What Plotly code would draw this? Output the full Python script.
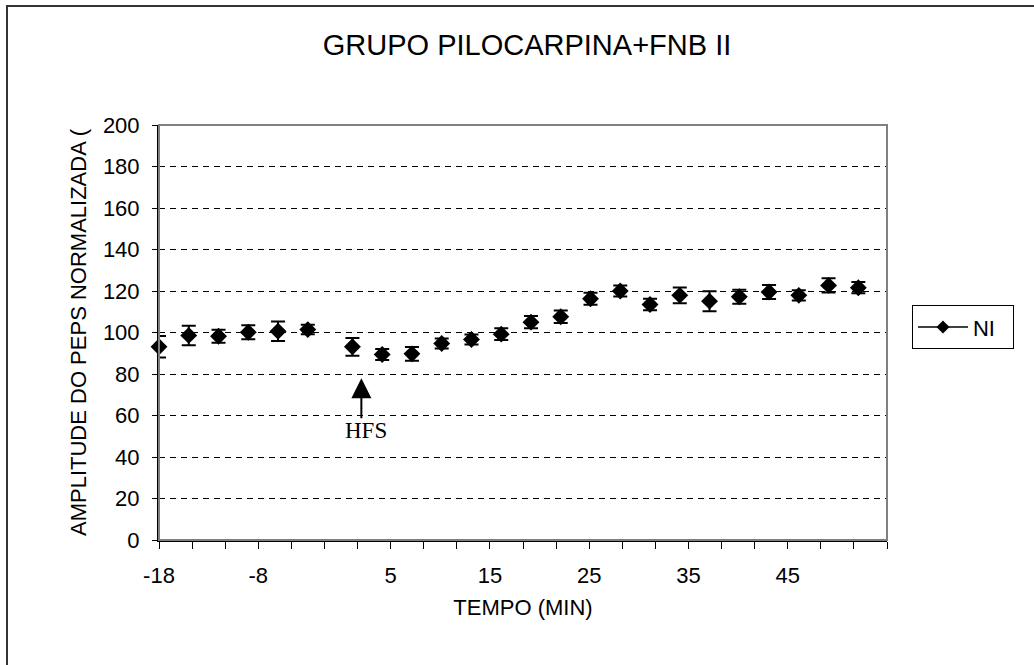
import plotly.graph_objects as go

# ---- data ----
tempo = [-18, -15, -12, -9, -6, -3,
         1.5, 4.5, 7.5, 10.5, 13.5, 16.5, 19.5, 22.5, 25.5, 28.5,
         31.5, 34.5, 37.5, 40.5, 43.5, 46.5, 49.5, 52.5]
amplitude = [93.1, 98.6, 98.2, 100.1, 100.6, 101.4,
             93.1, 89.4, 89.7, 94.7, 96.6, 99.2, 105.0, 107.6, 116.3, 120.0,
             113.5, 117.9, 115.1, 117.2, 119.5, 117.9, 122.7, 121.6]
erro = [5.2, 4.7, 3.1, 3.4, 4.7, 2.3,
        4.3, 2.6, 3.3, 2.4, 2.4, 2.8, 2.9, 3.0, 2.9, 2.7,
        2.8, 3.8, 4.8, 3.4, 3.4, 2.5, 3.4, 2.7]
x_tick_labels = ["-18", "", "", "-8", "", "", "", "5", "", "", "15", "", "", "25",
                 "", "", "35", "", "", "45", "", "", ""]
y_ticks = [0, 20, 40, 60, 80, 100, 120, 140, 160, 180, 200]
hfs_x = 2.4
hfs_tip, hfs_base = 78, 58
hfs_label_y = 52.8

X_MIN, X_MAX = -18, 55.39
n_int = len(x_tick_labels) - 1
x_tickvals = [X_MIN + k * (X_MAX - X_MIN) / n_int for k in range(n_int + 1)]

FONT = "Liberation Sans, Arial, sans-serif"

fig = go.Figure()
fig.add_trace(go.Scatter(
    x=tempo, y=amplitude, mode="markers", showlegend=False, cliponaxis=False,
    marker=dict(symbol="diamond", size=13, color="black"),
    error_y=dict(type="data", array=erro, visible=True, color="black",
                 thickness=2, width=7),
))
# legend-only entry (line + marker, as in the original legend)
fig.add_trace(go.Scatter(
    x=[None], y=[None], mode="lines+markers", name="NI&nbsp;&nbsp;",
    line=dict(color="black", width=1.5),
    marker=dict(symbol="diamond", size=10, color="black"),
))

# HFS arrow
fig.add_annotation(x=hfs_x, y=hfs_tip, ax=hfs_x, ay=hfs_base, xref="x", yref="y",
                   axref="x", ayref="y", text="", showarrow=True,
                   arrowhead=2, arrowsize=2.0, arrowwidth=2, arrowcolor="black")
fig.add_annotation(x=hfs_x + 0.5, y=hfs_label_y, xref="x", yref="y", text="HFS",
                   showarrow=False, yanchor="middle",
                   font=dict(family="Liberation Serif, Times New Roman, serif",
                             size=23, color="black"))

# plot-area top/right border (gray)
fig.add_shape(type="rect", xref="paper", yref="paper", x0=0, x1=1, y0=0, y1=1,
              line=dict(color="#808080", width=2), layer="above")
# outer chart frame
fig.add_shape(type="rect", xref="paper", yref="paper",
              x0=-0.2088, x1=1.22, y0=-0.32, y1=1.2867,
              line=dict(color="#333333", width=2), layer="above")

fig.update_layout(
    width=1034, height=665,
    margin=dict(l=159, r=147, t=125, b=125),
    paper_bgcolor="white", plot_bgcolor="white",
    font=dict(family=FONT, size=22, color="black"),
    title=dict(text="GRUPO PILOCARPINA+FNB II", x=527 / 1034, xanchor="center",
               y=1 - 45 / 665, yanchor="middle", yref="container",
               font=dict(size=29, family=FONT, color="black")),
    showlegend=True,
    legend=dict(x=1.0343, xanchor="left", y=0.566, yanchor="top",
                bordercolor="black", borderwidth=1, bgcolor="white",
                font=dict(size=22, family=FONT), itemwidth=50),
    xaxis=dict(range=[X_MIN, X_MAX], tickmode="array", tickvals=x_tickvals,
               ticktext=x_tick_labels, ticks="outside", ticklen=7, tickwidth=1,
               tickcolor="black", showline=True, linecolor="black", linewidth=2,
               showgrid=False, zeroline=False, ticklabelstandoff=8,
               tickfont=dict(size=22),
               title=dict(text="TEMPO (MIN)", standoff=12,
                          font=dict(size=22, family=FONT))),
    yaxis=dict(range=[0, 200], tickmode="array", tickvals=y_ticks,
               ticks="outside", ticklen=5, tickwidth=1, tickcolor="black",
               showline=True, linecolor="black", linewidth=2,
               showgrid=True, gridcolor="black", gridwidth=1, griddash="6px,5px",
               zeroline=False, ticklabelstandoff=8, tickfont=dict(size=22),
               title=dict(text="AMPLITUDE DO PEPS NORMALIZADA (", standoff=10,
                          font=dict(size=22, family=FONT))),
)

fig.write_html("out.html")
